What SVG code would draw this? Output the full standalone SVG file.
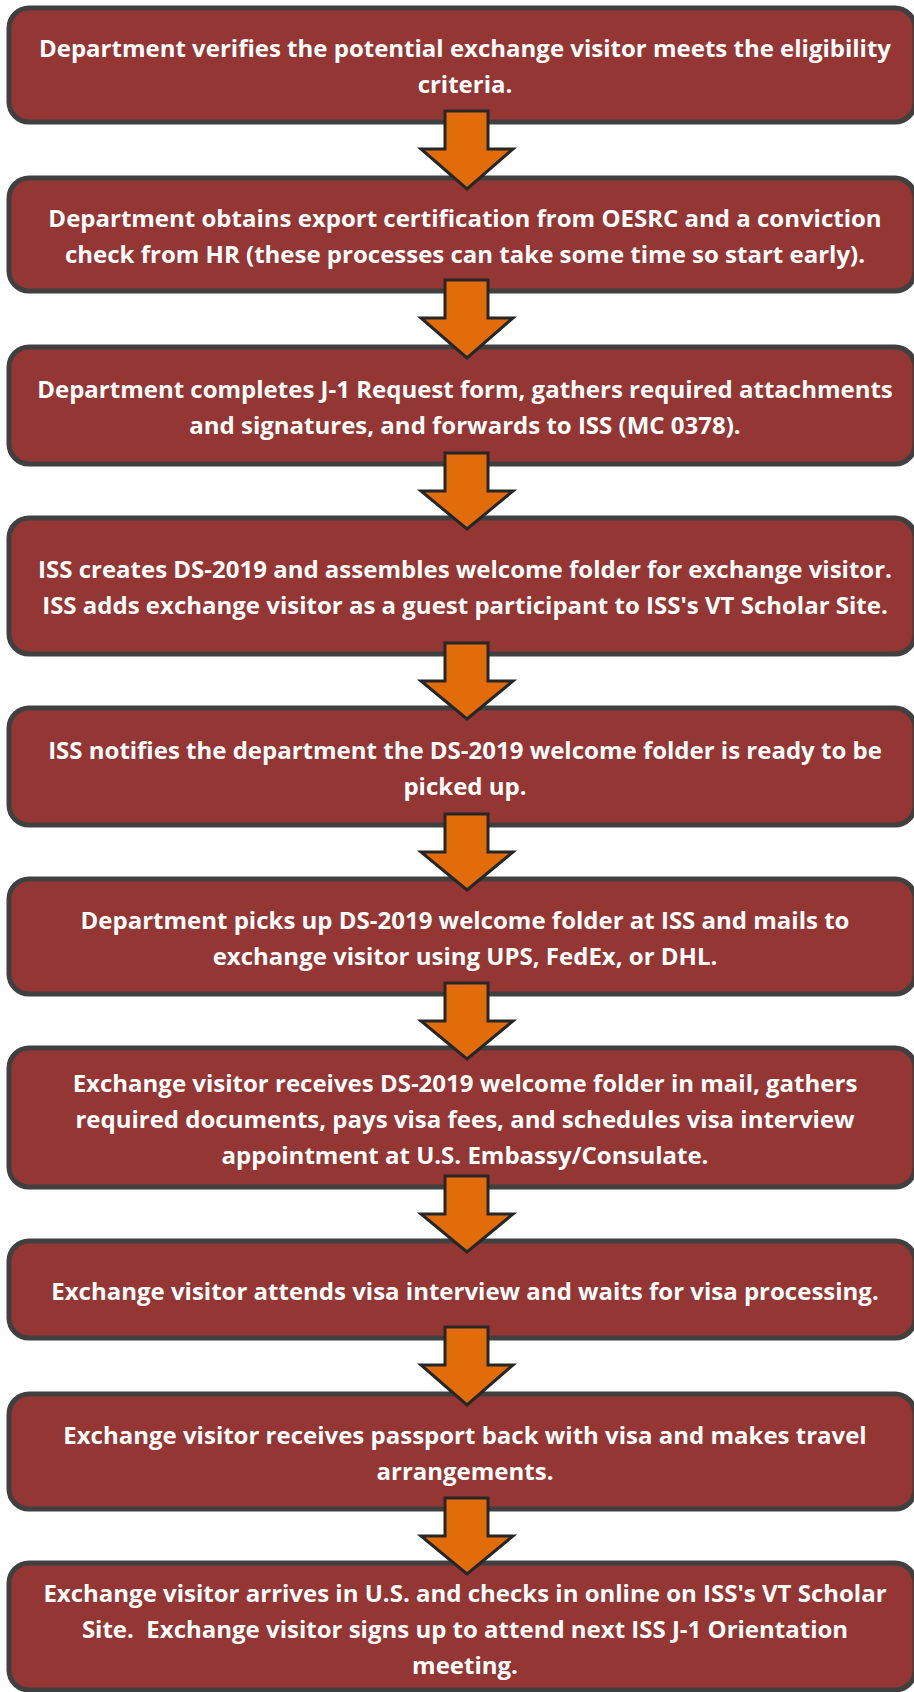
<svg xmlns="http://www.w3.org/2000/svg" width="914" height="1692" viewBox="0 0 914 1692">
<defs>
<style>
.box{fill:#943634;stroke:#404040;stroke-width:5}
.arr{fill:#E36C0A;stroke:#262626;stroke-width:3;stroke-linejoin:miter}
.t{font-family:"Open Sans","Liberation Sans",sans-serif;font-weight:bold;font-size:24px;fill:#ffffff;text-anchor:middle;white-space:pre}
</style>
</defs>
<rect width="914" height="1692" fill="#ffffff"/>
<g id="n1"><rect class="box" x="9" y="8" width="906" height="114" rx="20"/>
<text class="t" x="465" y="57">Department verifies the potential exchange visitor meets the eligibility</text>
<text class="t" x="465" y="93">criteria.</text></g>
<g id="n2"><rect class="box" x="9" y="178" width="906" height="113" rx="20"/>
<text class="t" x="465" y="226.5">Department obtains export certification from OESRC and a conviction</text>
<text class="t" x="465" y="262.5">check from HR (these processes can take some time so start early).</text></g>
<g id="n3"><rect class="box" x="9" y="347" width="906" height="117" rx="20"/>
<text class="t" x="465" y="397.5">Department completes J-1 Request form, gathers required attachments</text>
<text class="t" x="465" y="433.5">and signatures, and forwards to ISS (MC 0378).</text></g>
<g id="n4"><rect class="box" x="9" y="518" width="906" height="136" rx="20"/>
<text class="t" x="465" y="578">ISS creates DS-2019 and assembles welcome folder for exchange visitor.</text>
<text class="t" x="465" y="614">ISS adds exchange visitor as a guest participant to ISS's VT Scholar Site.</text></g>
<g id="n5"><rect class="box" x="9" y="708" width="906" height="117" rx="20"/>
<text class="t" x="465" y="758.5">ISS notifies the department the DS-2019 welcome folder is ready to be</text>
<text class="t" x="465" y="794.5">picked up.</text></g>
<g id="n6"><rect class="box" x="9" y="879" width="906" height="115" rx="20"/>
<text class="t" x="465" y="928.5">Department picks up DS-2019 welcome folder at ISS and mails to</text>
<text class="t" x="465" y="964.5">exchange visitor using UPS, FedEx, or DHL.</text></g>
<g id="n7"><rect class="box" x="9" y="1048" width="906" height="139" rx="20"/>
<text class="t" x="465" y="1091.5">Exchange visitor receives DS-2019 welcome folder in mail, gathers</text>
<text class="t" x="465" y="1127.5">required documents, pays visa fees, and schedules visa interview</text>
<text class="t" x="465" y="1163.5">appointment at U.S. Embassy/Consulate.</text></g>
<g id="n8"><rect class="box" x="9" y="1241" width="906" height="97" rx="20"/>
<text class="t" x="465" y="1299.5">Exchange visitor attends visa interview and waits for visa processing.</text></g>
<g id="n9"><rect class="box" x="9" y="1394" width="906" height="115" rx="20"/>
<text class="t" x="465" y="1443.5">Exchange visitor receives passport back with visa and makes travel</text>
<text class="t" x="465" y="1479.5">arrangements.</text></g>
<g id="n10"><rect class="box" x="9" y="1563" width="906" height="127" rx="20"/>
<text class="t" x="465" y="1601.5">Exchange visitor arrives in U.S. and checks in online on ISS's VT Scholar</text>
<text class="t" x="465" y="1637.5">Site.  Exchange visitor signs up to attend next ISS J-1 Orientation</text>
<text class="t" x="465" y="1673.5">meeting.</text></g>
<g id="connectors">
<path class="arr" d="M445,111 H488 V149 H513 L467,189 L421,149 H445 Z"/>
<path class="arr" d="M445,280 H488 V318 H513 L467,358 L421,318 H445 Z"/>
<path class="arr" d="M445,453 H488 V491 H513 L467,529 L421,491 H445 Z"/>
<path class="arr" d="M445,643 H488 V681 H513 L467,719 L421,681 H445 Z"/>
<path class="arr" d="M445,814 H488 V852 H513 L467,890 L421,852 H445 Z"/>
<path class="arr" d="M445,983 H488 V1021 H513 L467,1059 L421,1021 H445 Z"/>
<path class="arr" d="M445,1176 H488 V1214 H513 L467,1252 L421,1214 H445 Z"/>
<path class="arr" d="M445,1327 H488 V1365 H513 L467,1405 L421,1365 H445 Z"/>
<path class="arr" d="M445,1498 H488 V1536 H513 L467,1574 L421,1536 H445 Z"/>
</g>
</svg>
